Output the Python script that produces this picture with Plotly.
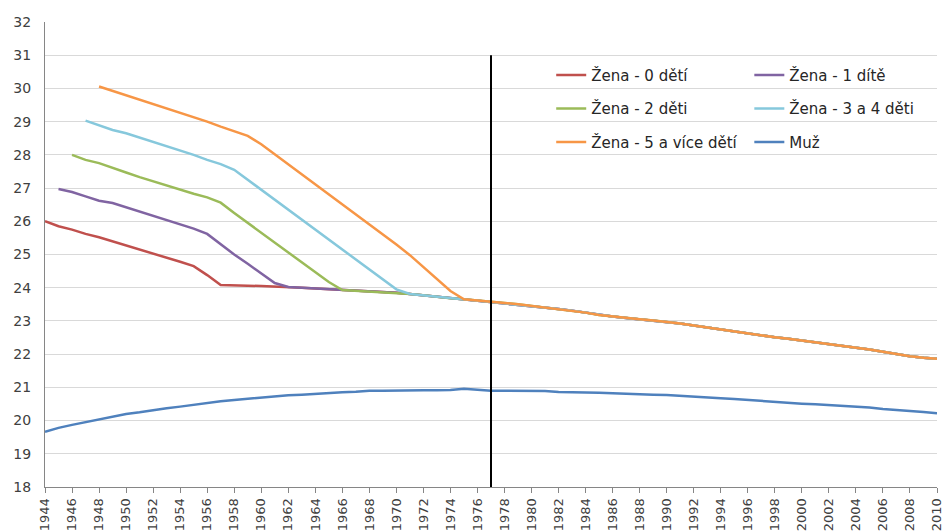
import plotly.graph_objects as go

# ---------------- data ----------------
years = list(range(1944, 2011))
tick_years = list(range(1944, 2011, 2))
tick_labels = [str(y) for y in tick_years]

# common path of all female series once they merge (1962..2010)
women_common_start = 1962
women_common = [24.02, 24.00, 23.98, 23.96, 23.93, 23.91, 23.89, 23.87, 23.85, 23.81,
                23.77, 23.72, 23.68, 23.65, 23.62, 23.58, 23.54, 23.50, 23.45, 23.41,
                23.36, 23.31, 23.25, 23.18, 23.13, 23.09, 23.05, 23.01, 22.97, 22.92,
                22.86, 22.80, 22.74, 22.67, 22.61, 22.56, 22.51, 22.46, 22.41, 22.36,
                22.31, 22.25, 22.20, 22.14, 22.07, 22.00, 21.94, 21.89, 21.86]

zena0_start = 1944
zena0_head = [26.00, 25.85, 25.75, 25.62, 25.52, 25.40, 25.27, 25.15, 25.03, 24.90,
              24.78, 24.65, 24.38, 24.08, 24.08, 24.06, 24.05, 24.04]

zena1_start = 1945
zena1_head = [26.97, 26.88, 26.75, 26.62, 26.55, 26.42, 26.30, 26.17, 26.05, 25.92,
              25.78, 25.62, 25.30, 25.00, 24.72, 24.42, 24.14]

zena2_start = 1946
zena2_head = [28.00, 27.85, 27.75, 27.60, 27.47, 27.33, 27.20, 27.07, 26.95, 26.83,
              26.72, 26.56, 26.25, 25.95, 25.65, 25.35, 25.05, 24.75, 24.45, 24.17]

zena34_start = 1947
zena34_head = [29.03, 28.88, 28.75, 28.65, 28.52, 28.40, 28.27, 28.15, 28.00, 27.85,
               27.72, 27.55, 27.25, 26.95, 26.65, 26.35, 26.05, 25.75, 25.45, 25.15,
               24.85, 24.55, 24.25, 23.95]

zena5_start = 1948
zena5_head = [30.06, 29.93, 29.80, 29.67, 29.53, 29.40, 29.27, 29.13, 29.00, 28.85,
              28.70, 28.57, 28.32, 28.02, 27.72, 27.40, 27.12, 26.82, 26.50, 26.20,
              25.90, 25.60, 25.30, 24.98, 24.62, 24.25, 23.90]

muz = [19.66, 19.78, 19.87, 19.95, 20.03, 20.11, 20.20, 20.25, 20.32, 20.37,
       20.42, 20.48, 20.54, 20.58, 20.62, 20.66, 20.70, 20.72, 20.76, 20.78,
       20.81, 20.83, 20.85, 20.87, 20.90, 20.90, 20.91, 20.91, 20.91, 20.91,
       20.92, 20.96, 20.92, 20.90, 20.90, 20.90, 20.90, 20.89, 20.86, 20.86,
       20.85, 20.84, 20.82, 20.80, 20.80, 20.78, 20.77, 20.74, 20.72, 20.69,
       20.67, 20.65, 20.62, 20.58, 20.56, 20.53, 20.51, 20.49, 20.47, 20.43,
       20.41, 20.39, 20.35, 20.31, 20.29, 20.26, 20.22]

marker_year = 1977
marker_range = [18, 31]

names = ["Žena - 0 dětí", "Žena - 1 dítě", "Žena - 2 děti",
         "Žena - 3 a 4 děti", "Žena - 5 a více dětí", "Muž"]
colors = ["#C0504D", "#8064A2", "#9BBB59", "#86C8DC", "#F79646", "#4F81BD"]


def build(start, head):
    offset = start + len(head) - women_common_start
    ys = head + women_common[offset:]
    xs = list(range(start, start + len(ys)))
    return xs, ys


series = [build(zena0_start, zena0_head),
          build(zena1_start, zena1_head),
          build(zena2_start, zena2_head),
          build(zena34_start, zena34_head),
          build(zena5_start, zena5_head),
          (years, muz)]

legend_of = ["legend", "legend2", "legend", "legend2", "legend", "legend2"]

FONT = "DejaVu Sans"

fig = go.Figure()
for i, (xs, ys) in enumerate(series):
    fig.add_trace(go.Scatter(
        x=xs, y=ys, mode="lines", name=names[i],
        line=dict(color=colors[i], width=2.5),
        legend=legend_of[i], legendgroup=names[i],
    ))

fig.add_trace(go.Scatter(
    x=[marker_year, marker_year], y=marker_range, mode="lines",
    line=dict(color="black", width=2), showlegend=False, hoverinfo="skip",
))

legend_common = dict(
    bgcolor="rgba(0,0,0,0)", font=dict(family=FONT, size=15, color="#262626"),
    tracegroupgap=11, itemwidth=30, xanchor="left", yanchor="top",
    traceorder="grouped",
)

fig.update_layout(
    width=944, height=532,
    margin=dict(l=45, r=7, t=22, b=45),
    paper_bgcolor="white", plot_bgcolor="white",
    font=dict(family=FONT, color="#404040"),
    legend=dict(x=0.5675, y=0.921, **legend_common),
    legend2=dict(x=0.7896, y=0.921, **legend_common),
    showlegend=True,
)

fig.update_xaxes(
    range=[1944, 2010], tickmode="array", tickvals=tick_years, ticktext=tick_labels,
    tickangle=-90, tickfont=dict(family=FONT, size=13, color="#404040"),
    ticks="outside", ticklen=5, tickcolor="#868686",
    showline=True, linecolor="#868686", linewidth=1,
    showgrid=False, zeroline=False, ticklabeloverflow="allow", automargin=False,
)
fig.update_yaxes(
    range=[18, 32], dtick=1, tickfont=dict(family=FONT, size=14, color="#404040"),
    showline=True, linecolor="#868686", linewidth=1,
    showgrid=True, gridcolor="#D9D9D9", gridwidth=1, zeroline=False,
    ticks="", ticklabelstandoff=10, automargin=False,
)

fig.write_html(
    "out.html",
    config={"displayModeBar": False},
    post_script="document.body.style.margin='0';document.body.style.overflow='hidden';",
)
